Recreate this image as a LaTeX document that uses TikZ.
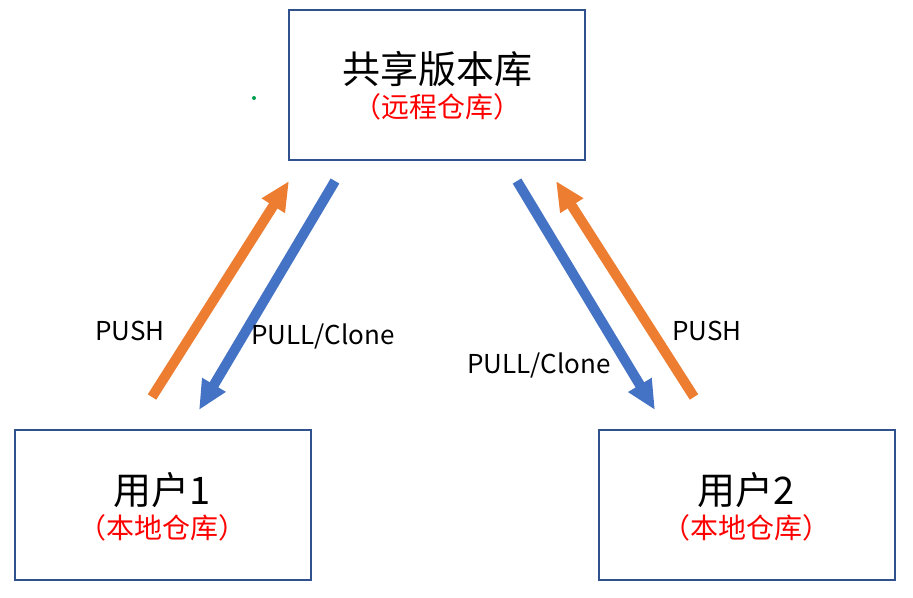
\documentclass[tikz,border=0pt]{standalone}
\usepackage{fontspec}
\setmainfont{Noto Sans CJK SC}
\usetikzlibrary{arrows.meta}
\definecolor{boxblue}{HTML}{2F528F}
\definecolor{arrorange}{HTML}{ED7D31}
\definecolor{arrblue}{HTML}{4472C4}
\definecolor{dotgreen}{HTML}{00A050}
\tikzset{
  repo/.style={draw=boxblue, line width=1.5pt, minimum width=222pt, minimum height=112.5pt, inner sep=0pt},
  maintxt/.style={font=\fontsize{28.5}{31}\selectfont, text=black, inner sep=0pt},
  subtxt/.style={font=\fontsize{21}{24}\selectfont, text=red, inner sep=0pt},
  lbl/.style={font=\fontsize{19.5}{22}\selectfont, text=black, inner sep=0pt},
  pusharr/.style={draw=arrorange, line width=7.5pt, -{Triangle[length=22pt,width=19pt]}},
  pullarr/.style={draw=arrblue, line width=7.5pt, -{Triangle[length=22pt,width=19pt]}}
}
\begin{document}
\begin{tikzpicture}[x=0.75pt,y=-0.75pt]
\useasboundingbox (0,0) rectangle (913,597);
% boxes
\node[repo] (shared) at (437,85) {};
\node[repo] (user1) at (162.5,505) {};
\node[repo] (user2) at (746.5,505) {};
% texts
\node[maintxt] (t0) at (437,69) {共享版本库};
\node[subtxt] (s0) at (437,107) {（远程仓库）};
\node[maintxt] (t1) at (162.5,490) {用户1};
\node[subtxt] (s1) at (162.5,528) {（本地仓库）};
\node[maintxt] (t2) at (746.5,490) {用户2};
\node[subtxt] (s2) at (746.5,528) {（本地仓库）};
% arrow endpoints
\coordinate (p1s) at (152,397);
\coordinate (p1e) at (289,181);
\coordinate (c1s) at (335,181);
\coordinate (c1e) at (199,410);
\coordinate (c2s) at (517,181);
\coordinate (c2e) at (655,410);
\coordinate (p2s) at (694,397);
\coordinate (p2e) at (556,181);
\draw[pusharr] (p1s) -- (p1e);
\draw[pullarr] (c1s) -- (c1e);
\draw[pullarr] (c2s) -- (c2e);
\draw[pusharr] (p2s) -- (p2e);
% labels
\node[lbl] (l1) at (130,331) {PUSH};
\node[lbl] (l2) at (323,336) {PULL/Clone};
\node[lbl] (l3) at (539,365) {PULL/Clone};
\node[lbl] (l4) at (707,331) {PUSH};
% stray dot
\fill[dotgreen] (254,98) circle (2);
\end{tikzpicture}
\end{document}
